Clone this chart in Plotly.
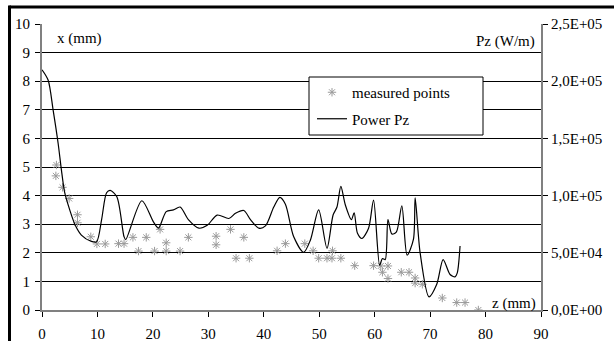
import plotly.graph_objects as go

# Measured displacement x (mm) against axial position z (mm)
meas_z = [2.6, 2.5, 3.7, 4.9, 6.4, 6.4, 8.8, 9.9, 11.4, 13.8, 14.8, 16.4, 17.4, 18.8,
          20.3, 21.3, 22.4, 22.4, 24.9, 26.4, 31.4, 31.4, 34.0, 35.0, 36.4, 37.4,
          42.4, 43.9, 47.4, 48.9, 49.9, 51.4, 52.3, 52.4, 53.9, 56.4, 59.8, 61.1,
          62.4, 61.4, 62.4, 64.8, 66.2, 67.3, 67.3, 68.6, 72.2, 74.8, 76.3, 78.7]
meas_x = [5.07, 4.69, 4.29, 3.90, 3.33, 3.05, 2.56, 2.31, 2.31, 2.32, 2.32, 2.54, 2.06, 2.54,
          2.06, 2.82, 2.35, 2.06, 2.06, 2.54, 2.58, 2.28, 2.82, 1.81, 2.54, 1.81,
          2.07, 2.32, 2.32, 2.07, 1.81, 1.81, 1.81, 2.07, 1.81, 1.55, 1.55, 1.54,
          1.54, 1.32, 1.10, 1.32, 1.32, 1.12, 0.94, 0.90, 0.42, 0.26, 0.26, 0.00]

# Linear power density Pz (W/m) along z (mm)
pz_z = [0.0, 1.1, 2.0, 2.9, 3.5, 4.1, 5.0, 6.0, 7.1, 8.9, 9.85, 10.75, 11.65, 12.3, 13.5,
        14.8, 15.1, 18.0, 20.1, 21.0, 22.4, 23.7, 24.9, 26.4, 28.3, 29.8, 31.6, 33.7,
        34.9, 36.4, 37.6, 39.1, 40.3, 41.8, 42.9, 43.9, 45.4, 47.2, 48.4, 49.9, 51.4,
        52.5, 53.2, 53.9, 54.7, 55.8, 56.3, 56.9, 57.7, 58.9, 59.8, 60.9, 61.4, 61.9,
        62.4, 63.1, 63.9, 64.9, 65.85, 67.0, 67.3, 68.2, 69.8, 71.2, 72.35, 73.6, 74.5,
        74.9, 75.4]
pz_w = [210000, 201000, 175000, 146000, 122500, 102500, 87500, 74000, 65500, 60000,
        59750, 79000, 102500, 104500, 99000, 64000, 61500, 95500, 77000, 71500, 86000,
        87500, 90000, 79000, 71500, 74000, 83000, 80000, 84500, 87000, 79000, 71500,
        73500, 90000, 98500, 92500, 64000, 50500, 61000, 87500, 54000, 83000, 90000,
        108000, 92000, 79000, 85000, 67000, 62500, 71500, 96000, 39000, 45000, 44000,
        79000, 66500, 68000, 91000, 48000, 62000, 98000, 50000, 11500, 22500, 44000,
        31000, 29000, 32500, 56000]

# Right-hand axis labels
pz_tickvals = [0, 50000, 100000, 150000, 200000, 250000]
pz_ticktext = ["0,0E+00", "5,0E+04", "1,0E+05", "1,5E+05", "2,0E+05", "2,5E+05"]

FONT = "Liberation Serif, Times New Roman, serif"
FS = 15
AXIS_GRAY = "#808080"
MARK_GRAY = "#9a9a9a"

fig = go.Figure()

fig.add_trace(go.Scatter(
    x=meas_z, y=meas_x, mode="markers", name="measured points",
    legendgroup="a",
    marker=dict(symbol="asterisk-open", size=7, color=MARK_GRAY,
                line=dict(color=MARK_GRAY, width=1)),
    yaxis="y",
))

fig.add_trace(go.Scatter(
    x=pz_z, y=pz_w, mode="lines", name="Power Pz",
    legendgroup="b",
    line=dict(color="black", width=1.2, shape="spline", smoothing=0.8),
    yaxis="y2",
))

W, H = 614, 341
L, R, T, B = 42, 73, 24, 31
pw, ph = W - L - R, H - T - B


def px_x(p):
    return (p - L) / pw


def px_y(p):
    return (H - B - p) / ph


axis_common = dict(
    showline=True, linecolor=AXIS_GRAY, linewidth=2, zeroline=False,
    ticks="outside", ticklen=5, tickcolor="black", tickwidth=1,
    tickfont=dict(family=FONT, size=FS, color="black"),
)

fig.update_layout(
    width=W, height=H,
    margin=dict(l=L, r=R, t=T, b=B, pad=0, autoexpand=False),
    paper_bgcolor="white", plot_bgcolor="white",
    font=dict(family=FONT, size=FS, color="black"),
    showlegend=True,
    legend=dict(
        x=px_x(312), y=px_y(76), xanchor="left", yanchor="top",
        bgcolor="rgba(0,0,0,0)", borderwidth=0,
        font=dict(family=FONT, size=FS, color="black"),
        tracegroupgap=4, traceorder="grouped",
    ),
    xaxis=dict(
        range=[0, 90], tick0=0, dtick=10, showgrid=False,
        ticklabelstandoff=4, **axis_common,
    ),
    yaxis=dict(
        range=[0, 10], tick0=0, dtick=1,
        showgrid=True, gridcolor="black", gridwidth=1,
        ticklabelstandoff=2, **axis_common,
    ),
    yaxis2=dict(
        range=[0, 250000], overlaying="y", side="right", anchor="x",
        tickvals=pz_tickvals, ticktext=pz_ticktext, showgrid=False,
        ticklabelstandoff=0, **axis_common,
    ),
    shapes=[
        # legend frame
        dict(type="rect", xref="paper", yref="paper",
             x0=px_x(309), x1=px_x(483), y0=px_y(135), y1=px_y(77),
             line=dict(color="black", width=1), fillcolor="white", layer="above"),
        # outer frame: top and left edges
        dict(type="line", xref="paper", yref="paper",
             x0=px_x(9.5), x1=px_x(640), y0=px_y(7), y1=px_y(7),
             line=dict(color="black", width=3), layer="above"),
        dict(type="line", xref="paper", yref="paper",
             x0=px_x(9.5), x1=px_x(9.5), y0=px_y(5.5), y1=px_y(360),
             line=dict(color="black", width=3), layer="above"),
    ],
    annotations=[
        dict(text="x (mm)", xref="paper", yref="paper", x=px_x(55), y=px_y(39),
             xanchor="left", yanchor="middle", showarrow=False,
             font=dict(family=FONT, size=FS)),
        dict(text="Pz (W/m)", xref="paper", yref="paper", x=px_x(537), y=px_y(42),
             xanchor="right", yanchor="middle", showarrow=False,
             font=dict(family=FONT, size=FS)),
        dict(text="z (mm)", xref="paper", yref="paper", x=px_x(538), y=px_y(303),
             xanchor="right", yanchor="middle", showarrow=False,
             font=dict(family=FONT, size=FS)),
    ],
)

fig.write_html("out.html")
